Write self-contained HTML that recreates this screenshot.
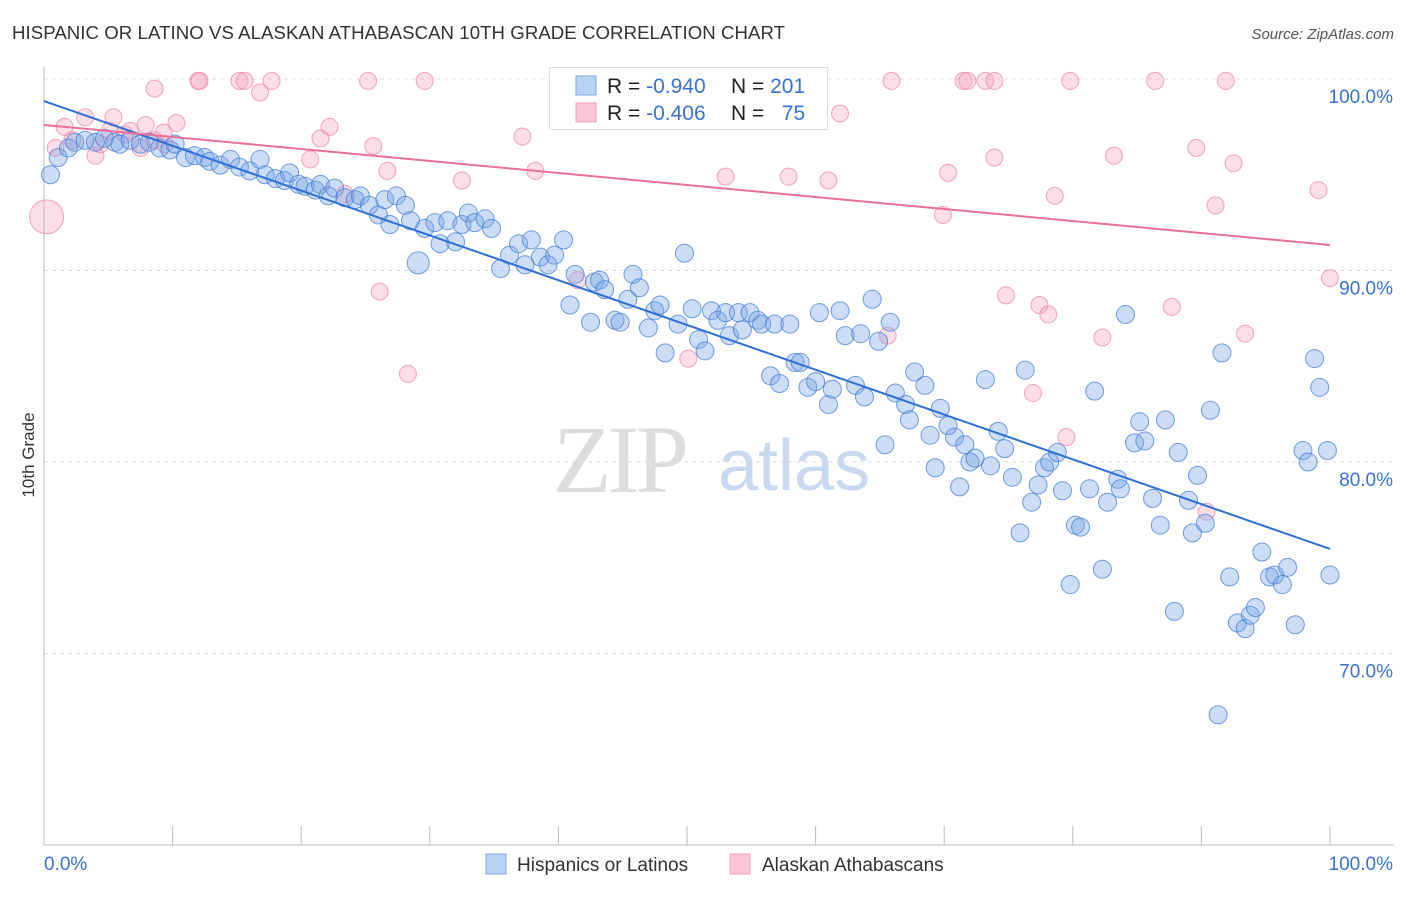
<!DOCTYPE html>
<html><head><meta charset="utf-8"><style>
body{margin:0;background:#fff;font-family:"Liberation Sans",sans-serif}
</style></head><body>
<svg id="chart" width="1406" height="892" xmlns="http://www.w3.org/2000/svg">
<text x="12" y="39" font-size="18.6" fill="#333" textLength="773">HISPANIC OR LATINO VS ALASKAN ATHABASCAN 10TH GRADE CORRELATION CHART</text>
<text x="1394" y="39" font-size="15" fill="#555" font-style="italic" text-anchor="end">Source: ZipAtlas.com</text>
<text x="0" y="0" font-size="17" fill="#333" transform="translate(34,455) rotate(-90)" text-anchor="middle">10th Grade</text>
<g><text x="553" y="492" font-size="96" fill="#ddd" font-family="Liberation Serif,serif" letter-spacing="-4">ZIP</text><text x="718" y="490" font-size="72" fill="#c9d9f0">atlas</text></g>
<g id="grid"></g><g id="axes"></g><g id="pts"></g><g id="lines"></g>
<g>
<rect x="549.5" y="67.5" width="278" height="62" fill="#fff" stroke="#ddd"/>
<rect x="576" y="76" width="20" height="19" fill="#b9d3f5" stroke="#7ba7e3"/>
<rect x="576" y="103" width="20" height="19" fill="#f8c8d7" stroke="#eba0b8"/>
<text x="607" y="93" font-size="21" fill="#222">R = <tspan fill="#3a72d6">-0.940</tspan></text>
<text x="731" y="93" font-size="21" fill="#222">N = <tspan fill="#3a72d6">201</tspan></text>
<text x="607" y="120" font-size="21" fill="#222">R = <tspan fill="#3a72d6">-0.406</tspan></text>
<text x="731" y="120" font-size="21" fill="#222">N = <tspan fill="#3a72d6">&#160;&#160;75</tspan></text>
</g>
<g>
<rect x="486" y="854" width="20" height="20" fill="#b9d3f5" stroke="#7ba7e3"/>
<text x="517" y="871" font-size="19" fill="#333">Hispanics or Latinos</text>
<rect x="730" y="854" width="20" height="20" fill="#f8c8d7" stroke="#eba0b8"/>
<text x="762" y="871" font-size="19" fill="#333">Alaskan Athabascans</text>
</g>
</svg>
<script>
const yTicks=[100,90,80,70];
const yTickLabels=["100.0%","90.0%","80.0%","70.0%"];
const xTickLabels=["0.0%","100.0%"];
const blueX=[.5,1.1,1.9,2.4,3.2,4.0,4.7,5.5,5.9,6.7,7.5,8.2,9.0,9.8,10.2,11.0,11.7,12.5,12.9,13.7,14.5,15.2,16.0,16.8,17.2,18.0,18.7,19.1,19.8,20.3,21.1,21.5,22.1,22.6,23.4,24.2,24.6,25.3,26.0,26.5,26.9,27.4,28.1,28.5,29.1,29.6,30.4,30.8,31.4,32.0,32.5,33.0,33.5,34.3,34.8,35.5,36.2,36.9,37.4,37.9,38.6,39.2,39.7,40.4,40.9,41.3,42.5,42.8,43.2,43.6,44.4,44.8,45.4,45.8,46.3,47.0,47.5,47.9,48.3,49.3,49.8,50.4,50.9,51.4,51.9,52.4,53.0,53.3,54.0,54.3,54.9,55.5,55.8,56.8,58.0,56.5,57.2,58.4,58.8,59.4,60.0,60.3,61.0,61.3,61.9,62.3,63.1,63.5,63.8,64.4,64.9,65.4,65.8,66.2,67.0,67.3,67.7,68.5,68.9,69.3,69.7,70.3,70.8,71.2,71.6,72.0,72.4,73.2,73.6,74.2,74.7,75.3,75.9,76.3,76.8,77.3,77.8,78.2,78.8,79.2,79.8,80.2,80.6,81.3,81.7,82.3,82.7,83.5,83.7,84.1,84.8,85.2,85.6,86.2,86.8,87.2,87.9,88.2,89.0,89.3,89.7,90.3,90.7,91.3,91.6,92.2,92.8,93.4,93.8,94.2,94.7,95.3,95.7,96.3,96.7,97.3,97.9,98.3,98.8,99.2,99.8,100];
const blueY=[95.0,95.9,96.4,96.7,96.8,96.7,96.9,96.7,96.6,96.8,96.6,96.7,96.4,96.3,96.6,95.9,96.0,95.9,95.7,95.5,95.8,95.4,95.2,95.8,95.0,94.8,94.7,95.1,94.5,94.4,94.2,94.5,93.9,94.3,93.8,93.7,93.9,93.4,92.9,93.7,92.4,93.9,93.4,92.6,90.4,92.2,92.5,91.4,92.6,91.5,92.4,93.0,92.5,92.7,92.2,90.1,90.8,91.4,90.3,91.6,90.7,90.3,90.8,91.6,88.2,89.8,87.3,89.4,89.5,89.0,87.4,87.3,88.5,89.8,89.1,87.0,87.9,88.2,85.7,87.2,90.9,88.0,86.4,85.8,87.9,87.4,87.8,86.6,87.8,86.9,87.8,87.4,87.2,87.2,87.2,84.5,84.1,85.2,85.2,83.9,84.2,87.8,83.0,83.8,87.9,86.6,84.0,86.7,83.4,88.5,86.3,80.9,87.3,83.6,83.0,82.2,84.7,84.0,81.4,79.7,82.8,81.9,81.3,78.7,80.9,80.0,80.2,84.3,79.8,81.6,80.7,79.2,76.3,84.8,77.9,78.8,79.7,80.0,80.5,78.5,73.6,76.7,76.6,78.6,83.7,74.4,77.9,79.1,78.6,87.7,81.0,82.1,81.1,78.1,76.7,82.2,72.2,80.5,78.0,76.3,79.3,76.8,82.7,66.8,85.7,74.0,71.6,71.3,72.0,72.4,75.3,74.0,74.1,73.6,74.5,71.5,80.6,80.0,85.4,83.9,80.6,74.1];
const pinkX=[.2,.9,1.6,2.2,3.2,4.0,4.4,5.1,5.4,6.3,6.7,7.5,7.9,8.6,9.3,9.4,10.3,8.6,12.0,12.1,15.2,15.6,16.8,17.7,20.7,21.5,22.2,23.4,25.2,25.6,26.1,26.7,28.3,29.6,32.5,37.2,38.2,41.5,50.1,53.0,57.9,61.0,61.9,65.6,65.9,69.9,70.3,71.5,71.8,73.2,73.9,73.9,74.8,76.9,77.4,78.1,78.6,79.5,79.8,82.3,83.2,86.4,87.7,89.6,90.4,91.1,91.9,92.5,93.4,99.1,100];
const pinkY=[92.8,96.4,97.5,96.8,98.0,96.0,96.6,97.3,98.0,97.1,97.3,96.4,97.6,96.8,97.2,96.6,97.7,99.5,99.9,99.9,99.9,99.9,99.3,99.9,95.8,96.9,97.5,94.0,99.9,96.5,88.9,95.2,84.6,99.9,94.7,97.0,95.2,89.5,85.4,94.9,94.9,94.7,98.2,86.6,99.9,92.9,95.1,99.9,99.9,99.9,99.9,95.9,88.7,83.6,88.2,87.7,93.9,81.3,99.9,86.5,96.0,99.9,88.1,96.4,77.4,93.4,99.9,95.6,86.7,94.2,89.6];
const blueTrend=[98.85,75.46];
const pinkTrend=[97.6,91.33];
const NS="http://www.w3.org/2000/svg";
const sx=v=>44+v*12.86, sy=v=>79+(100-v)*19.15;
function mk(t,a,p){const e=document.createElementNS(NS,t);for(const k in a)e.setAttribute(k,a[k]);p.appendChild(e);return e;}
const grid=document.getElementById('grid'),axes=document.getElementById('axes'),pts=document.getElementById('pts'),lines=document.getElementById('lines');
yTicks.forEach((t,i)=>{
 const l=mk('line',{x1:44,x2:1394,y1:sy(t),y2:sy(t),stroke:'#ddd','stroke-dasharray':'4,4'},grid);
 
 
 const tx=mk('text',{x:1393,y:sy(t)+24,'text-anchor':'end','font-size':19,fill:'#3a72d6'},axes);
 tx.textContent=yTickLabels[i];
 
 
});
const ax=mk('line',{x1:44,x2:1394,y1:845,y2:845,stroke:'#bbb'},axes);


const ay=mk('line',{x1:44,x2:44,y1:67,y2:845,stroke:'#bbb'},axes);


for(let i=0;i<=10;i++){const t=mk('line',{x1:sx(i*10),x2:sx(i*10),y1:826,y2:845,stroke:'#bbb'},axes);
 
 }
[[0,'start'],[100,'end']].forEach((d,i)=>{const t=mk('text',{x:i?1393:44,y:870,'text-anchor':d[1],'font-size':19,fill:'#3a72d6'},axes);t.textContent=xTickLabels[i];
 
 });
pinkX.forEach((x,i)=>{const c=mk('circle',{cx:sx(x),cy:sy(pinkY[i]),r:i===0?17:8.5,fill:'rgba(244,160,188,0.35)',stroke:'rgba(232,130,165,0.7)','stroke-width':1},pts);
 
 });
blueX.forEach((x,i)=>{const r=(blueY[i]>90.2&&blueY[i]<90.6&&x>29&&x<29.3)?11:9;const c=mk('circle',{cx:sx(x),cy:sy(blueY[i]),r:r,fill:'rgba(120,165,230,0.38)',stroke:'rgba(70,125,210,0.75)','stroke-width':1},pts);
 
 });
const bl=mk('line',{x1:sx(0),y1:sy(blueTrend[0]),x2:sx(100),y2:sy(blueTrend[1]),stroke:'#2f6fd8','stroke-width':2},lines);


const pl=mk('line',{x1:sx(0),y1:sy(pinkTrend[0]),x2:sx(100),y2:sy(pinkTrend[1]),stroke:'#e8709a','stroke-width':2},lines);


</script>
</body></html>
